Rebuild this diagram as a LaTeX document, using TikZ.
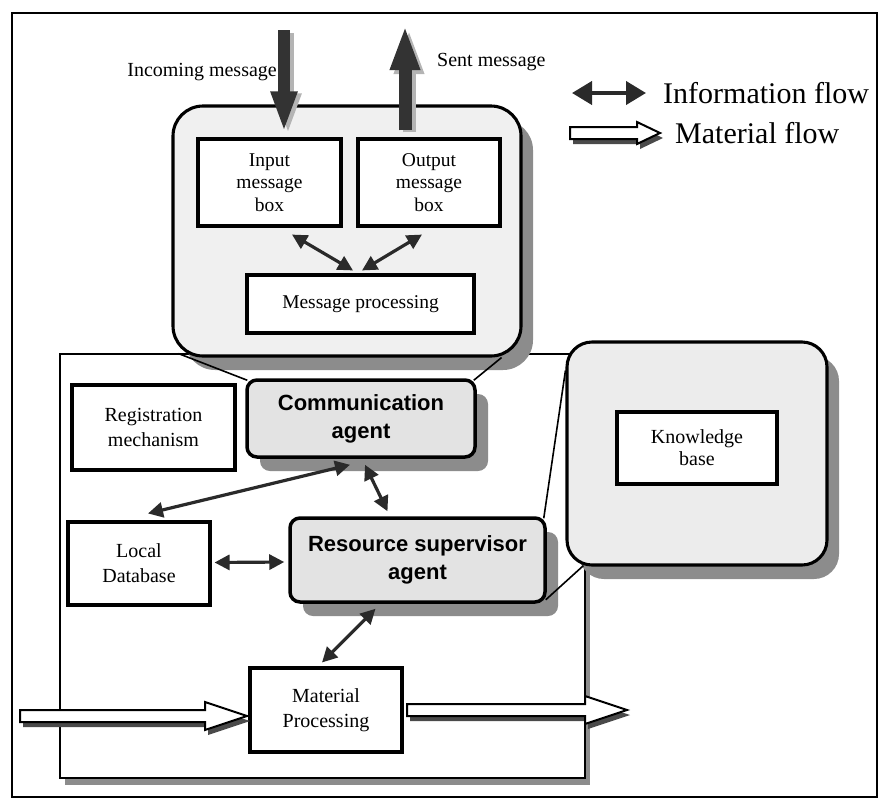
\documentclass[tikz,border=0pt]{standalone}
\usepackage{fontspec}
\setmainfont{Liberation Serif}
\newfontfamily\agentfont{Liberation Sans}
\usetikzlibrary{arrows.meta,calc,shadows}

\definecolor{ink}{HTML}{2A2A2A}
\definecolor{msgdark}{HTML}{333333}
\definecolor{msgshade}{HTML}{B4B4B4}
\definecolor{topfill}{HTML}{F0F0F0}
\definecolor{agentfill}{HTML}{E3E3E3}
\definecolor{kbfill}{HTML}{ECECEC}
\definecolor{shadowgray}{HTML}{8C8C8C}
\definecolor{matshade}{HTML}{4A4A4A}

\begin{document}
\begin{tikzpicture}[x=1pt,y=-1pt,
  every node/.style={inner sep=0pt},
  plainbox/.style={draw=black, line width=3.1pt, fill=white, align=center,
    font=\fontsize{20}{25}\selectfont},
  msgbox/.style={plainbox, font=\fontsize{19.5}{22.5}\selectfont},
  agentbox/.style={draw=black, line width=3.5pt, fill=agentfill, rounded corners=10pt,
    align=center, font=\agentfont\bfseries\fontsize{22}{28}\selectfont,
    drop shadow={shadow xshift=13pt, shadow yshift=-14pt, fill=shadowgray, opacity=1}},
  bigpanel/.style={draw=black, line width=3.1pt, rounded corners=#1,
    drop shadow={shadow xshift=12pt, shadow yshift=-14pt, fill=shadowgray, opacity=1}},
  info/.style={draw=ink, line width=3.2pt,
    {Triangle[length=15pt,width=15pt]}-{Triangle[length=15pt,width=15pt]}},
  zoomline/.style={draw=black, line width=1.6pt},
  label/.style={font=\fontsize{20}{24}\selectfont},
  legendtext/.style={font=\fontsize{30}{34}\selectfont, anchor=west},
  matarrow/.style={draw=black, line width=2pt, fill=white, line join=miter},
  matshadow/.style={fill=matshade}
]
\useasboundingbox (0,0) rectangle (880,801);

% outer frame
\draw[line width=2.5pt] (12,13) rectangle (877,797);

% machine frame
\draw[line width=2.8pt, fill=white,
  drop shadow={shadow xshift=5pt, shadow yshift=-7pt, fill=shadowgray, opacity=1}]
  (60,354) rectangle (585,778);

% expanded view of the communication agent
\node[bigpanel=30pt, fill=topfill, minimum width=348pt, minimum height=250pt]
  (detail) at (347,231) {};
\node[msgbox, minimum width=143pt, minimum height=87pt] (inbox) at (269.5,182.5)
  {Input\\message\\box};
\node[msgbox, minimum width=142pt, minimum height=87pt] (outbox) at (429,182.5)
  {Output\\message\\box};
\node[msgbox, minimum width=227pt, minimum height=58pt] (proc) at (360.5,304)
  {Message processing};

\draw[info] ($(inbox.south)+(22.5,7)$) -- ($(proc.north)+(-7.5,-3)$);
\draw[info] ($(outbox.south)+(-7,7)$) -- ($(proc.north)+(1.5,-3)$);

% incoming and sent messages
\coordinate (inTail) at (284,30);
\coordinate (sentTip) at (405,25);
\draw[msgshade, line width=12pt, -{Triangle[length=41pt,width=24pt]}]
  ($(inTail)+(4,3)$) -- ($(inbox.north)+(18.5,-3)$);
\draw[msgdark, line width=12pt, -{Triangle[length=41pt,width=24pt]}]
  (inTail) -- ($(inbox.north)+(14.5,-5)$);
\draw[msgshade, line width=13pt, -{Triangle[length=45pt,width=27pt]}]
  ($(outbox.north)+(-20,-5)$) -- ($(sentTip)+(4,4)$);
\draw[msgdark, line width=13pt, -{Triangle[length=45pt,width=27pt]}]
  ($(outbox.north)+(-24,-7)$) -- (sentTip);

\node[label, anchor=east] (inlabel) at (277,72) {Incoming message};
\node[label, anchor=west] (sentlabel) at (437,62) {Sent message};

% legend
\coordinate (legA) at (572,93);
\coordinate (legB) at (646,93);
\draw[draw=ink, line width=4pt,
  {Triangle[length=20pt,width=23pt]}-{Triangle[length=20pt,width=23pt]}] (legA) -- (legB);
\node[legendtext] (infotext) at (663,93) {Information flow};
\fill[matshadow, shift={(3,5)}]
  (570,127) -- (637,127) -- (637,122) -- (660,133) -- (637,144) -- (637,139) -- (570,139) -- cycle;
\draw[matarrow]
  (570,127) -- (637,127) -- (637,122) -- (660,133) -- (637,144) -- (637,139) -- (570,139) -- cycle;
\node[legendtext] (mattext) at (675,133) {Material flow};

% machine internals
\node[plainbox, minimum width=163pt, minimum height=85pt] (reg) at (153.5,427.5)
  {Registration\\mechanism};
\node[plainbox, minimum width=142pt, minimum height=83pt] (localdb) at (139,563.5)
  {Local\\Database};
\node[plainbox, minimum width=152pt, minimum height=84pt] (mp) at (326,710)
  {Material\\Processing};

\node[agentbox, minimum width=228pt, minimum height=77pt] (comm) at (361,418.5)
  {Communication\\agent};
\node[agentbox, minimum width=255pt, minimum height=84pt] (rsa) at (417.5,560)
  {Resource supervisor\\agent};

% knowledge base panel
\node[bigpanel=25pt, fill=kbfill, minimum width=260pt, minimum height=223pt]
  (kb) at (697,453.5) {};
\node[plainbox, minimum width=160pt, minimum height=72pt, font=\fontsize{20}{22}\selectfont]
  (kbinner) at (697,448) {Knowledge\\base};

% zoom-out lines
\draw[zoomline] ($(detail.south west)+(7,-4)$) -- ($(comm.north west)+(2,2)$);
\draw[zoomline] ($(detail.south east)+(-21,0)$) -- ($(comm.north east)+(-3,2)$);
\draw[zoomline] ($(kb.north west)+(0,30)$) -- ($(rsa.north east)+(-3,2)$);
\draw[zoomline] ($(kb.south west)+(18,-1)$) -- ($(rsa.south east)+(-1,-4)$);

% information flows
\draw[info] ($(comm.south)+(-11,6)$) -- ($(localdb.north)+(9,-7)$);
\draw[info] ($(comm.south)+(4,6)$) -- ($(rsa.north)+(-30,-5)$);
\draw[info] ($(localdb.east)+(3,-1)$) -- ($(rsa.west)+(-4,2)$);
\draw[info] ($(rsa.south)+(-42,5)$) -- ($(mp.north)+(-4,-4)$);

% material flows
\fill[matshadow, shift={(3,5)}]
  (20,710) -- (205,710) -- (205,702) -- (247,716) -- (205,730) -- (205,722) -- (20,722) -- cycle;
\draw[matarrow]
  (20,710) -- (205,710) -- (205,702) -- (247,716) -- (205,730) -- (205,722) -- (20,722) -- cycle;
\fill[matshadow, shift={(3,5)}]
  (407,704) -- (585,704) -- (585,696) -- (627,710) -- (585,724) -- (585,716) -- (407,716) -- cycle;
\draw[matarrow]
  (407,704) -- (585,704) -- (585,696) -- (627,710) -- (585,724) -- (585,716) -- (407,716) -- cycle;
\end{tikzpicture}
\end{document}
